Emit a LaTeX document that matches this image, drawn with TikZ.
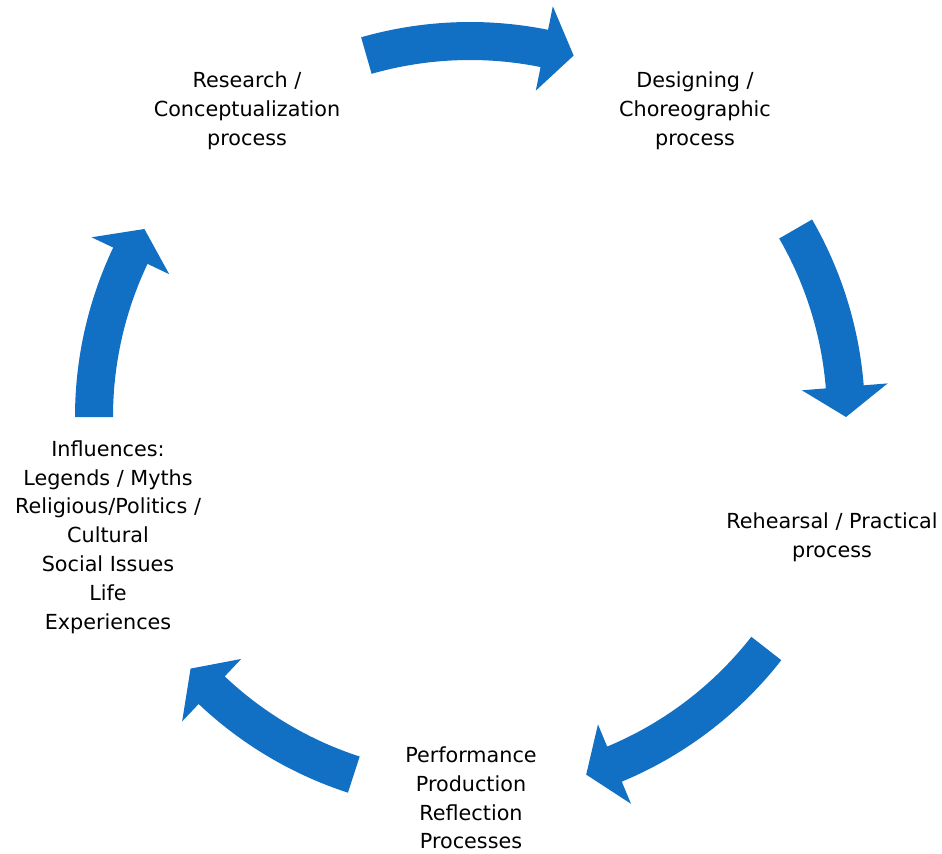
\documentclass[tikz,border=0pt]{standalone}
\usepackage{fontspec}
\setmainfont{DejaVu Sans}
\usepackage{tikz}
\definecolor{cycleblue}{RGB}{17,112,196}

\begin{document}
\begin{tikzpicture}[x=0.02cm,y=0.02cm]
        \tikzset{stage/.style = {align=center,inner sep=0pt,font=\fontsize{11.8}{16.4}\selectfont}}
        \tikzset{blockarrow/.style = {fill=cycleblue,draw=none}}
        \useasboundingbox (0,0) rectangle (942,853);
        % stages
        \coordinate (c) at (470,436);
        \node[stage] (research) at (247,742) {Research /\\Conceptualization\\process};
        \node[stage] (design) at (695,742) {Designing /\\Choreographic\\process};
        \node[stage] (rehearsal) at (832,316) {Rehearsal / Practical\\process};
        \node[stage] (perform) at (471,55) {Performance\\Production\\Reflection\\Processes};
        \node[stage] (influence) at (108,316) {Influences:\\Legends / Myths\\Religious/Politics /\\Cultural\\Social Issues\\Life\\Experiences};
        %arrows
        \begin{scope}[shift={(c)}]
        \fill[blockarrow] (106:395) arc[start angle=106,end angle=78.6,radius=395] -- (78.6:419) -- (74:376) -- (78.6:333) -- (78.6:357) arc[start angle=78.6,end angle=106,radius=357] -- cycle;
        \fill[blockarrow] (30:395) arc[start angle=30,end angle=4.6,radius=395] -- (4.6:419) -- (0:376) -- (4.6:333) -- (4.6:357) arc[start angle=4.6,end angle=30,radius=357] -- cycle;
        \fill[blockarrow] (-38:395) arc[start angle=-38,end angle=-67.4,radius=395] -- (-67.4:419) -- (-72:376) -- (-67.4:333) -- (-67.4:357) arc[start angle=-67.4,end angle=-38,radius=357] -- cycle;
        \fill[blockarrow] (-108:395) arc[start angle=-108,end angle=-133.4,radius=395] -- (-133.4:419) -- (-138:376) -- (-133.4:333) -- (-133.4:357) arc[start angle=-133.4,end angle=-108,radius=357] -- cycle;
        \fill[blockarrow] (180:395) arc[start angle=180,end angle=154.6,radius=395] -- (154.6:419) -- (150:376) -- (154.6:333) -- (154.6:357) arc[start angle=154.6,end angle=180,radius=357] -- cycle;
        \end{scope}
\end{tikzpicture}
\end{document}
